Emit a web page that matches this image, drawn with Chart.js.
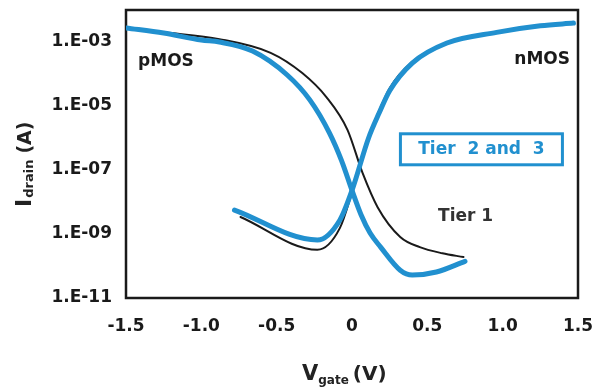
<!DOCTYPE html>
<html>
<head>
<meta charset="utf-8">
<script src="https://cdn.jsdelivr.net/npm/chart.js@4.4.1/dist/chart.umd.min.js"></script>
<style>
  html, body { margin: 0; padding: 0; background: #ffffff; }
  #wrap { width: 595px; height: 387px; position: relative; }
</style>
</head>
<body>
<div id="wrap"><canvas id="c" width="595" height="387"></canvas></div>
<script>
// ---- Data ----
// Tier 2 and 3 (blue), pMOS sweep
const pmosBlueX = [-1.5, -1.25, -1.0, -0.88, -0.66, -0.43, -0.28, -0.15, -0.07, 0.0, 0.06, 0.12, 0.19, 0.32, 0.40, 0.56, 0.75];
const pmosBlueY = [2.75e-3, 1.9e-3, 1.15e-3, 1.0e-3, 5.2e-4, 9.3e-5, 1.55e-5, 1.45e-6, 2.0e-7, 2.3e-8, 4.0e-9, 1.07e-9, 3.9e-10, 7.4e-11, 5.2e-11, 6.5e-11, 1.4e-10];
// Tier 2 and 3 (blue), nMOS sweep
const nmosBlueX = [-0.78, -0.23, -0.08, 0.0, 0.11, 0.18, 0.25, 0.40, 0.63, 0.96, 1.25, 1.47];
const nmosBlueY = [5.6e-9, 6.5e-10, 2.75e-9, 2.3e-8, 1.0e-6, 6.0e-6, 3.0e-5, 2.2e-4, 9.3e-4, 2.0e-3, 3.2e-3, 3.9e-3];
// Tier 1 (black), pMOS sweep
const pmosBlackX = [-1.5, -1.25, -0.88, -0.54, -0.33, -0.17, -0.03, 0.07, 0.17, 0.32, 0.45, 0.60, 0.74];
const pmosBlackY = [2.75e-3, 2.0e-3, 1.23e-3, 4.6e-4, 1.07e-4, 1.9e-5, 1.8e-6, 8.1e-8, 6.9e-9, 8.1e-10, 3.9e-10, 2.5e-10, 1.9e-10];
// Tier 1 (black), nMOS sweep
const nmosBlackX = [-0.74, -0.23, -0.08, 0.0, 0.11, 0.18, 0.25, 0.40, 0.63, 0.96, 1.25, 1.47];
const nmosBlackY = [3.4e-9, 3.2e-10, 1.55e-9, 2.0e-8, 1.1e-6, 7.0e-6, 3.6e-5, 2.4e-4, 9.3e-4, 2.0e-3, 3.2e-3, 3.9e-3];

// ---- Axes ----
const xTickValues = [-1.5, -1.0, -0.5, 0, 0.5, 1.0, 1.5];
const xTickLabels = ['-1.5', '-1.0', '-0.5', '0', '0.5', '1.0', '1.5'];
const yTickValues = [1e-11, 1e-9, 1e-7, 1e-5, 1e-3];
const yTickLabels = ['1.E-11', '1.E-09', '1.E-07', '1.E-05', '1.E-03'];

// ---- Annotations (data-space anchors) ----
const labelPMOS = { text: 'pMOS', x: -1.42, y: 2.5e-4 };
const labelNMOS = { text: 'nMOS', x: 1.447, y: 2.75e-4 };
const labelTier1 = { text: 'Tier 1', x: 0.571, y: 3.6e-9 };
const labelTier23 = { text: 'Tier  2 and  3', x: 0.859, y: 4.6e-7 };

const BLUE = '#2190cf';
const BLACK = '#1a1a1a';
const FONT = '"DejaVu Sans", "Liberation Sans", Arial, sans-serif';

function pts(xs, ys) { return xs.map((x, i) => ({ x: x, y: ys[i] })); }

const decor = {
  id: 'decor',
  beforeDatasetsDraw(chart) {
    const { ctx, chartArea: a } = chart;
    ctx.save();
    ctx.strokeStyle = BLACK;
    ctx.lineWidth = 2.5;
    ctx.strokeRect(a.left, a.top, a.right - a.left, a.bottom - a.top);
    ctx.restore();
  },
  afterDraw(chart) {
    const { ctx } = chart;
    const xs = chart.scales.x, ys = chart.scales.y;
    ctx.save();
    // annotations
    ctx.font = 'bold 17px ' + FONT;
    ctx.fillStyle = BLACK;
    ctx.textBaseline = 'middle';
    ctx.textAlign = 'left';
    ctx.fillText(labelPMOS.text, xs.getPixelForValue(labelPMOS.x), ys.getPixelForValue(labelPMOS.y));
    ctx.textAlign = 'right';
    ctx.fillText(labelNMOS.text, xs.getPixelForValue(labelNMOS.x), ys.getPixelForValue(labelNMOS.y));
    ctx.textAlign = 'left';
    ctx.fillStyle = '#333333';
    ctx.fillText(labelTier1.text, xs.getPixelForValue(labelTier1.x), ys.getPixelForValue(labelTier1.y));
    // boxed label
    const cx = xs.getPixelForValue(labelTier23.x), cy = ys.getPixelForValue(labelTier23.y);
    ctx.textAlign = 'center';
    ctx.fillStyle = BLUE;
    ctx.fillText(labelTier23.text, cx, cy + 1);
    ctx.strokeStyle = BLUE;
    ctx.lineWidth = 3;
    ctx.strokeRect(cx - 81, cy - 15, 162, 31);

    // x axis title: V_gate (V)
    ctx.fillStyle = '#222222';
    ctx.textAlign = 'left';
    ctx.textBaseline = 'alphabetic';
    let x0 = 302, base = 380;
    ctx.font = 'bold 21px ' + FONT;
    ctx.fillText('V', x0, base);
    x0 += ctx.measureText('V').width;
    ctx.font = 'bold 12px ' + FONT;
    ctx.fillText('gate', x0, base + 4);
    x0 += ctx.measureText('gate').width + 4;
    ctx.font = 'bold 20px ' + FONT;
    ctx.fillText('(V)', x0, base);

    // y axis title: I_drain (A), rotated
    ctx.translate(31, 207);
    ctx.rotate(-Math.PI / 2);
    let y0 = 0;
    ctx.font = 'bold 22px ' + FONT;
    ctx.fillText('I', y0, 0);
    y0 += ctx.measureText('I').width + 1;
    ctx.font = 'bold 13px ' + FONT;
    ctx.fillText('drain', y0, 2);
    y0 += ctx.measureText('drain').width + 6;
    ctx.font = 'bold 19px ' + FONT;
    ctx.fillText('(A)', y0, 0);
    ctx.restore();
  }
};

new Chart(document.getElementById('c'), {
  type: 'line',
  data: {
    datasets: [
      { label: 'Tier 2 and 3 pMOS', data: pts(pmosBlueX, pmosBlueY), borderColor: BLUE, borderWidth: 5, order: 0 },
      { label: 'Tier 2 and 3 nMOS', data: pts(nmosBlueX, nmosBlueY), borderColor: BLUE, borderWidth: 5, order: 0 },
      { label: 'Tier 1 pMOS', data: pts(pmosBlackX, pmosBlackY), borderColor: BLACK, borderWidth: 2, order: 1 },
      { label: 'Tier 1 nMOS', data: pts(nmosBlackX, nmosBlackY), borderColor: BLACK, borderWidth: 2, order: 1 }
    ]
  },
  options: {
    responsive: false,
    animation: false,
    devicePixelRatio: 1,
    layout: { padding: { top: 10, right: 17, left: 0, bottom: 0 } },
    elements: {
      point: { radius: 0 },
      line: { cubicInterpolationMode: 'monotone', fill: false, borderCapStyle: 'round', borderJoinStyle: 'round' }
    },
    plugins: { legend: { display: false }, tooltip: { enabled: false } },
    scales: {
      x: {
        type: 'linear',
        min: -1.5, max: 1.5,
        grid: { display: false, drawTicks: false },
        border: { display: false },
        afterBuildTicks: (s) => { s.ticks = xTickValues.map(v => ({ value: v })); },
        afterFit: (s) => { s.height = 89; s.paddingLeft = 0; s.paddingRight = 0; s.paddingTop = 0; s.paddingBottom = 0; },
        ticks: {
          padding: 18,
          color: '#1a1a1a',
          font: { family: FONT, size: 17, weight: 'bold' },
          maxRotation: 0,
          callback: (v, i) => xTickLabels[i]
        }
      },
      y: {
        type: 'logarithmic',
        min: 1e-11, max: 1e-2,
        grid: { display: false, drawTicks: false },
        border: { display: false },
        afterBuildTicks: (s) => { s.ticks = yTickValues.map(v => ({ value: v })); },
        afterFit: (s) => { s.width = 126; s.paddingLeft = 0; s.paddingRight = 0; s.paddingTop = 0; s.paddingBottom = 0; },
        ticks: {
          padding: 14,
          color: '#1a1a1a',
          font: { family: FONT, size: 17, weight: 'bold' },
          callback: (v, i) => yTickLabels[i]
        }
      }
    }
  },
  plugins: [decor]
});
</script>
</body>
</html>
